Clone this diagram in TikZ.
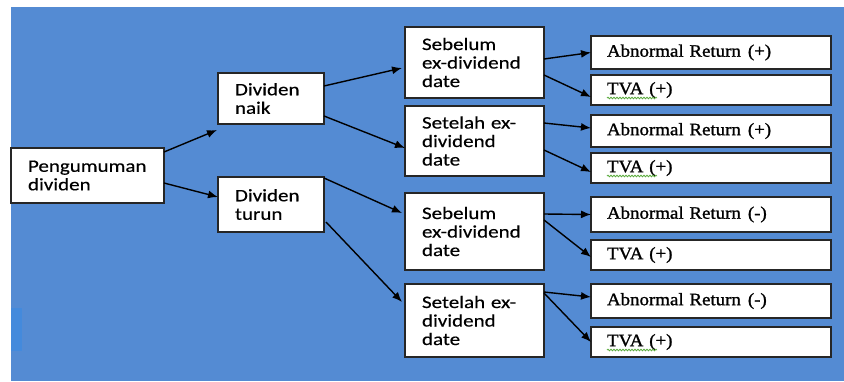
\documentclass[tikz,border=0pt]{standalone}
\usepackage{fontspec}
\usetikzlibrary{arrows.meta,calc,shadows,decorations.pathmorphing}
\newfontfamily\calib[FakeStretch=1.2,FakeBold=0.4]{Carlito}
\newfontfamily\tnr[FakeStretch=1.08,FakeBold=1.2]{Liberation Serif}
\definecolor{bgblue}{RGB}{84,139,211}
\definecolor{bgblue2}{RGB}{68,138,220}
\definecolor{spellgreen}{RGB}{90,170,60}
\tikzset{
  basebox/.style={draw=black!85, fill=white, line width=1.3pt, outer sep=0pt,
    drop shadow={shadow xshift=1.2pt, shadow yshift=-1.2pt, fill=black!70, opacity=.6}},
  lbox/.style={basebox, inner xsep=17pt, inner ysep=0pt, align=left,
    font=\calib\fontsize{17.5}{18.5}\selectfont},
  rbox/.style={basebox, inner xsep=16pt, inner ysep=0pt, align=left, text width=208pt,
    font=\tnr\fontsize{17.5}{19}\selectfont},
  arr/.style={line width=1.4pt, -{Latex[length=10pt,width=8pt]}},
  wavy/.style={draw=spellgreen, line width=0.8pt, decorate,
    decoration={snake, amplitude=0.8pt, segment length=3pt}}
}
\begin{document}
\begin{tikzpicture}[x=1pt,y=-1pt]
\useasboundingbox (0,0) rectangle (844,381);
\fill[white] (0,0) rectangle (844,381);
\fill[bgblue] (11,7) rectangle (844,381);
\fill[bgblue2] (11,308) rectangle (22,351);

% left column
\node[lbox, text width=119pt, minimum height=55pt] (peng) at (87.5,175.5) {Pengumuman\\dividen};
\node[lbox, text width=72pt, minimum height=51pt] (naik) at (271,98.5) {Dividen\\naik};
\node[lbox, text width=72pt, minimum height=55pt] (turun) at (271,204.5) {Dividen\\turun};

% middle column
\node[lbox, text width=105pt, minimum height=71pt] (seb1) at (474.5,62.5) {Sebelum\\ex-dividend\\date};
\node[lbox, text width=105pt, minimum height=70pt] (set1) at (474.5,141) {Setelah ex-\\dividend\\date};
\node[lbox, text width=105pt, minimum height=77pt] (seb2) at (474.5,231.5) {Sebelum\\ex-dividend\\date};
\node[lbox, text width=105pt, minimum height=73pt] (set2) at (474.5,320.5) {Setelah ex-\\dividend\\date};

% right column
\node[rbox, minimum height=33pt] (ar1) at (711,52.5) {Abnormal Return\hspace{7pt}(+)};
\node[rbox, minimum height=30pt] (tva1) at (711,90) {TVA~(+)};
\node[rbox, minimum height=32pt] (ar2) at (711,131) {Abnormal Return\hspace{7pt}(+)};
\node[rbox, minimum height=30pt] (tva2) at (711,168) {TVA~(+)};
\node[rbox, minimum height=35pt] (ar3) at (711,214.5) {Abnormal Return\hspace{7pt}(-)};
\node[rbox, minimum height=30pt] (tva3) at (711,255) {TVA (+)};
\node[rbox, minimum height=34pt] (ar4) at (711,301) {Abnormal Return\hspace{7pt}(-)};
\node[rbox, minimum height=30pt] (tva4) at (711,342) {TVA~(+)};

% spell-check underlines
\draw[wavy] ($(tva1.west)+(16,8)$) -- ++(50,0);
\draw[wavy] ($(tva2.west)+(16,8)$) -- ++(50,0);
\draw[wavy] ($(tva4.west)+(16,8)$) -- ++(50,0);

% connectors
\draw[arr] ($(peng.north east)+(0,4)$) -- ($(naik.south west)+(-1,6)$);
\draw[arr] ($(peng.north east)+(0,35)$) -- ($(turun.north west)+(0,20)$);
\draw[arr] ($(naik.north east)+(0,13)$) -- ($(seb1.north west)+(-3,41)$);
\draw[arr] ($(naik.north east)+(0,43)$) -- ($(set1.north west)+(0,42)$);
\draw[arr] ($(turun.north east)+(0,1)$) -- ($(seb2.north west)+(-3,20)$);
\draw[arr] ($(turun.north east)+(2,45)$) -- ($(set2.north west)+(-3,18)$);

\draw[arr] ($(seb1.north east)+(0,32)$) -- (ar1.west);
\draw[arr] ($(seb1.north east)+(0,48)$) -- ($(tva1.north west)+(0,22)$);
\draw[arr] ($(set1.north east)+(0,17)$) -- ($(ar2.north west)+(0,13)$);
\draw[arr] ($(set1.north east)+(0,44)$) -- ($(tva2.north west)+(0,19)$);
\draw[arr] ($(seb2.north east)+(0,21)$) -- (ar3.west);
\draw[arr] ($(seb2.north east)+(0,27)$) -- ($(tva3.north west)+(0,17)$);
\draw[arr] ($(set2.north east)+(0,8)$) -- ($(ar4.north west)+(0,13)$);
\draw[arr] ($(set2.north east)+(0,9)$) -- (tva4.west);
\end{tikzpicture}
\end{document}
